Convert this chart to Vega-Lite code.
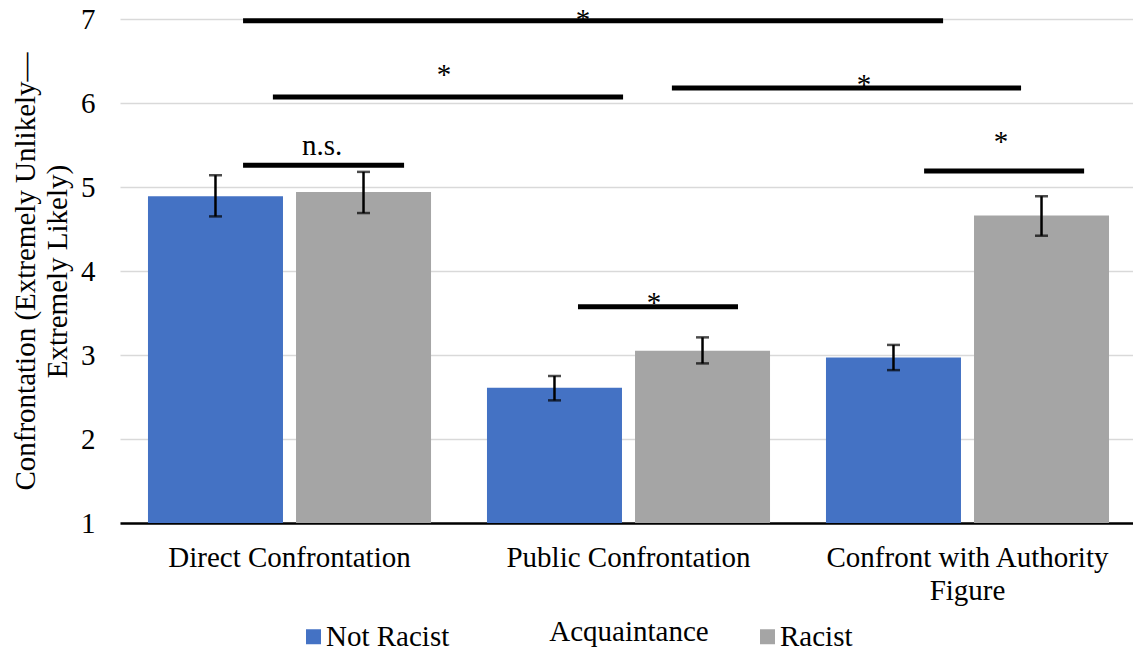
{
  "$schema": "https://vega.github.io/schema/vega-lite/v6.json",
  "width": 1013,
  "height": 504,
  "autosize": {"type": "none"},
  "padding": {"left": 120, "top": 19, "right": 0, "bottom": 128},
  "background": "white",
  "config": {
    "font": "Liberation Serif",
    "view": {"stroke": null},
    "text": {"font": "Liberation Serif", "color": "black"}
  },
  "datasets": {
    "means": [
      {"condition": "Direct Confrontation", "acquaintance": "Not Racist", "mean": 4.89, "lo": 4.65, "hi": 5.14},
      {"condition": "Direct Confrontation", "acquaintance": "Racist", "mean": 4.94, "lo": 4.69, "hi": 5.18},
      {"condition": "Public Confrontation", "acquaintance": "Not Racist", "mean": 2.61, "lo": 2.46, "hi": 2.75},
      {"condition": "Public Confrontation", "acquaintance": "Racist", "mean": 3.05, "lo": 2.9, "hi": 3.21},
      {"condition": "Confront with Authority Figure", "acquaintance": "Not Racist", "mean": 2.97, "lo": 2.82, "hi": 3.12},
      {"condition": "Confront with Authority Figure", "acquaintance": "Racist", "mean": 4.66, "lo": 4.42, "hi": 4.89}
    ],
    "brackets": [
      {"from": 0.363, "to": 2.428, "level": 6.98},
      {"from": 0.451, "to": 1.484, "level": 6.07},
      {"from": 1.628, "to": 2.658, "level": 6.18},
      {"from": 0.363, "to": 0.838, "level": 5.26},
      {"from": 1.351, "to": 1.823, "level": 3.575},
      {"from": 2.372, "to": 2.844, "level": 5.19}
    ],
    "marks": [
      {"pos": 1.366, "level": 6.88, "label": "*"},
      {"pos": 0.956, "level": 6.23, "label": "*"},
      {"pos": 2.195, "level": 6.11, "label": "*"},
      {"pos": 0.596, "level": 5.38, "label": "n.s."},
      {"pos": 1.575, "level": 3.51, "label": "*"},
      {"pos": 2.599, "level": 5.43, "label": "*"}
    ]
  },
  "layer": [
    {
      "data": {"name": "means"},
      "encoding": {
        "x": {
          "field": "condition", "type": "nominal",
          "sort": ["Direct Confrontation", "Public Confrontation", "Confront with Authority Figure"],
          "scale": {"range": [0, 1017], "paddingInner": 0, "paddingOuter": 0},
          "axis": {
            "title": "Acquaintance",
            "titleFont": "Liberation Serif", "titleFontSize": 29, "titleFontWeight": "normal", "titleColor": "black",
            "titlePadding": 12,
            "labelFont": "Liberation Serif", "labelFontSize": 29, "labelColor": "black",
            "labelAngle": 0, "labelPadding": 20, "labelLineHeight": 33, "labelLimit": 400,
            "labelExpr": "datum.value == 'Confront with Authority Figure' ? ['Confront with Authority', 'Figure'] : datum.value",
            "ticks": false, "tickSize": 0,
            "domainColor": "black", "domainWidth": 2.5,
            "grid": false
          }
        },
        "xOffset": {
          "field": "acquaintance", "type": "nominal",
          "scale": {"paddingInner": 0.088, "paddingOuter": 0.189}
        }
      },
      "layer": [
        {
          "mark": {"type": "bar"},
          "encoding": {
            "y": {
              "field": "mean", "type": "quantitative",
              "scale": {"domain": [1, 7], "nice": false, "zero": false},
              "axis": {
                "title": ["Confrontation (Extremely Unlikely—", "Extremely Likely)"],
                "titleFont": "Liberation Serif", "titleFontSize": 29, "titleFontWeight": "normal", "titleColor": "black",
                "titleLineHeight": 32, "titlePadding": 8,
                "values": [1, 2, 3, 4, 5, 6, 7], "format": "d",
                "labelFont": "Liberation Serif", "labelFontSize": 29, "labelColor": "black", "labelPadding": 25,
                "ticks": false, "tickSize": 0, "domain": false,
                "grid": true, "gridColor": "#d9d9d9", "gridWidth": 1.5
              }
            },
            "y2": {"datum": 1},
            "color": {
              "field": "acquaintance", "type": "nominal",
              "scale": {"domain": ["Not Racist", "Racist"], "range": ["#4472C4", "#A5A5A5"]},
              "legend": {
                "title": null, "orient": "none", "direction": "horizontal",
                "legendX": 179, "legendY": 603,
                "symbolType": "square", "symbolSize": 225, "symbolStrokeWidth": 0,
                "labelFont": "Liberation Serif", "labelFontSize": 29, "labelColor": "black", "labelOffset": -2,
                "columnPadding": 303
              }
            }
          }
        },
        {
          "mark": {"type": "rule", "color": "black", "strokeWidth": 2.5},
          "encoding": {
            "y": {"field": "lo", "type": "quantitative"},
            "y2": {"field": "hi"}
          }
        },
        {
          "mark": {"type": "tick", "orient": "horizontal", "color": "black", "size": 13, "thickness": 2.5},
          "encoding": {"y": {"field": "hi", "type": "quantitative"}}
        },
        {
          "mark": {"type": "tick", "orient": "horizontal", "color": "black", "size": 13, "thickness": 2.5},
          "encoding": {"y": {"field": "lo", "type": "quantitative"}}
        }
      ]
    },
    {
      "layer": [
        {
          "data": {"name": "brackets"},
          "mark": {"type": "rule", "color": "black", "strokeWidth": 5, "strokeCap": "butt"},
          "encoding": {
            "x": {"field": "from", "type": "quantitative", "scale": {"domain": [0, 3], "range": [0, 1017], "nice": false, "zero": false}, "axis": null},
            "x2": {"field": "to"},
            "y": {"field": "level", "type": "quantitative"}
          }
        },
        {
          "data": {"name": "marks"},
          "mark": {"type": "text", "fontSize": 29, "align": "center", "baseline": "alphabetic", "color": "black"},
          "encoding": {
            "x": {"field": "pos", "type": "quantitative", "scale": {"domain": [0, 3], "range": [0, 1017], "nice": false, "zero": false}, "axis": null},
            "y": {"field": "level", "type": "quantitative"},
            "text": {"field": "label"}
          }
        }
      ]
    }
  ],
  "resolve": {"scale": {"x": "independent"}}
}
